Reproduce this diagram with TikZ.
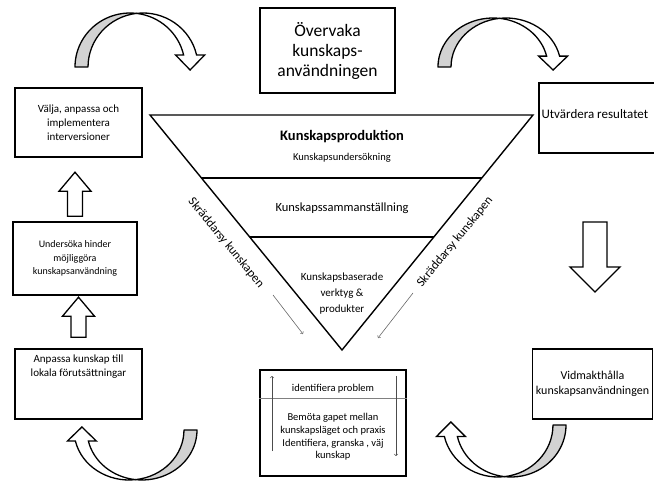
\documentclass[tikz,border=0pt]{standalone}
\usepackage{fontspec}
\setmainfont{Carlito}
\usepackage{tikz}
\usetikzlibrary{positioning,calc}

\tikzset{
  pics/curvarrow/.style={code={
    % grey back of the ribbon
    \filldraw[fill=gray!35, draw=black, line width=1.3pt, line join=round]
      (-55,0) arc[start angle=180, end angle=276.8, x radius=55, y radius=#1]
      arc[start angle=263.2, end angle=180, x radius=55, y radius=#1] -- cycle;
    % white front with the head
    \filldraw[fill=white, draw=black, line width=1.3pt]
      (6.5,{-0.993*#1}) arc[start angle=276.8, end angle=347.2, x radius=55, y radius=#1]
      -- (45.6,{-0.2215*#1}) -- (60.1,3) -- (74.6,{-0.2215*#1}) -- (66.6,{-0.2215*#1})
      arc[start angle=347.2, end angle=263.2, x radius=55, y radius=#1] -- cycle;
  }},
  pics/blockup/.style n args={4}{code={
    \filldraw[fill=white, draw=black, line width=1.3pt]
      (-#2,0) -- (-#2,{-#1+#4}) -- (-#3,{-#1+#4}) -- (0,-#1)
      -- (#3,{-#1+#4}) -- (#2,{-#1+#4}) -- (#2,0) -- cycle;
  }},
}

\begin{document}
\begin{tikzpicture}[x=1pt, y=-1pt,
    box/.style={rectangle, draw=black, line width=1.6pt},
    boxtext/.style={align=center, font=\fontsize{11}{14}\selectfont},
    tri/.style={draw=black, line width=1.4pt},
    sidelabel/.style={font=\fontsize{12.5}{14}\selectfont, inner sep=0pt},
    thinarrow/.style={draw=gray!80!black, line width=0.6pt, ->},
    innerarrow/.style={draw=black!70, line width=0.6pt, ->},
  ]
  \path[use as bounding box, clip] (0,0) rectangle (654,481);

  %Monitoring box
  \node[box, align=center, font=\fontsize{17.5}{20}\selectfont, minimum width=135pt, minimum height=85pt] (overvaka) at (327.5,50.5) {Övervaka\\kunskaps-\\användningen};

  %Left column
  \node[box, boxtext, minimum width=127pt, minimum height=69pt] (valja) at (78.5,122.5) {Välja, anpassa och\\implementera\\interversioner};
  \node[box, boxtext, font=\fontsize{10}{13.5}\selectfont, minimum width=124pt, minimum height=73pt] (undersoka) at (75,258.5) {Undersöka hinder\\möjliggöra\\kunskapsanvändning};
  \node[box, minimum width=127pt, minimum height=70pt] (anpassa) at (78.5,384) {};
  \node[boxtext, below=3pt of anpassa.north] (anpassatext) {Anpassa kunskap till\\lokala förutsättningar};
  \pic at ($(undersoka.north)+(0,-5)$) {blockup={44}{7.5}{16}{19}};
  \pic at ($(anpassa.north)+(0,-11)$) {blockup={40}{7.5}{16}{19}};

  %Right column
  \node[box, minimum width=150pt, minimum height=70pt, anchor=north west] (utvardera) at (538,82) {};
  \node[boxtext, font=\fontsize{13}{15}\selectfont, anchor=west] (utvtext) at ([xshift=0pt, yshift=4pt]utvardera.west) {Utvärdera resultatet};
  \node[box, boxtext, font=\fontsize{12}{15}\selectfont, minimum width=119pt, minimum height=70pt] (vidmakt) at (592.5,384) {Vidmakthålla\\kunskapsanvändningen};
  \pic[rotate=180] at (595,222) {blockup={70}{12}{25}{25}};

  %Knowledge triangle
  \coordinate (tl) at (150,115);
  \coordinate (tr) at (533,115);
  \coordinate (apex) at (342,350);
  \draw[tri] (tl) -- (tr) -- (apex) -- cycle;
  \draw[tri] ($(tl)!0.268!(apex)$) -- ($(tr)!0.268!(apex)$);
  \draw[tri] ($(tl)!0.519!(apex)$) -- ($(tr)!0.519!(apex)$);
  \node[font=\bfseries\fontsize{14.5}{16}\selectfont] (prod) at (342,137) {Kunskapsproduktion};
  \node[font=\fontsize{10.5}{12}\selectfont] (unders) at (342,158) {Kunskapsundersökning};
  \node[font=\fontsize{12.5}{14}\selectfont] (samman) at (342,208) {Kunskapssammanställning};
  \node[align=center, font=\fontsize{11}{16}\selectfont] (baserade) at (342,294) {Kunskapsbaserade\\verktyg \&\\produkter};
  \node[sidelabel, rotate=-50.8] (skr_left) at (226,243) {Skräddarsy kunskapen};
  \node[sidelabel, rotate=50.8] (skr_right) at (455,242) {Skräddarsy kunskapen};
  \coordinate (lfrom) at (273,295);
  \coordinate (lto) at (303,334);
  \draw[thinarrow] (lfrom) -- (lto);
  \coordinate (rfrom) at (413,293);
  \coordinate (rto) at (378,338);
  \draw[thinarrow] (rfrom) -- (rto);

  %Gap box
  \node[box, minimum width=146pt, minimum height=106pt] (gapbox) at (333,423) {};
  \node[font=\fontsize{10.5}{13}\selectfont] (idprob) at (333,389) {identifiera problem};
  \coordinate (idline) at (333,398);
  \draw[gray, line width=0.8pt] (gapbox.west |- idline) -- (gapbox.east |- idline);
  \node[align=center, font=\fontsize{10.5}{12.7}\selectfont] (bemota) at (333,437) {Bemöta gapet mellan\\kunskapsläget och praxis\\Identifiera, granska , väj\\kunskap};
  \coordinate (upfrom) at (272,451);
  \coordinate (upto) at (272,376);
  \draw[innerarrow] (upfrom) -- (upto);
  \coordinate (dnfrom) at (396,376);
  \coordinate (dnto) at (396,456);
  \draw[innerarrow] (dnfrom) -- (dnto);

  %Cycle arrows
  \pic at (130,67) {curvarrow=54};
  \pic at (493,67) {curvarrow=49};
  \pic[rotate=180] at (142,430) {curvarrow=50};
  \pic[rotate=180] at (511,425) {curvarrow=52};
\end{tikzpicture}
\end{document}
